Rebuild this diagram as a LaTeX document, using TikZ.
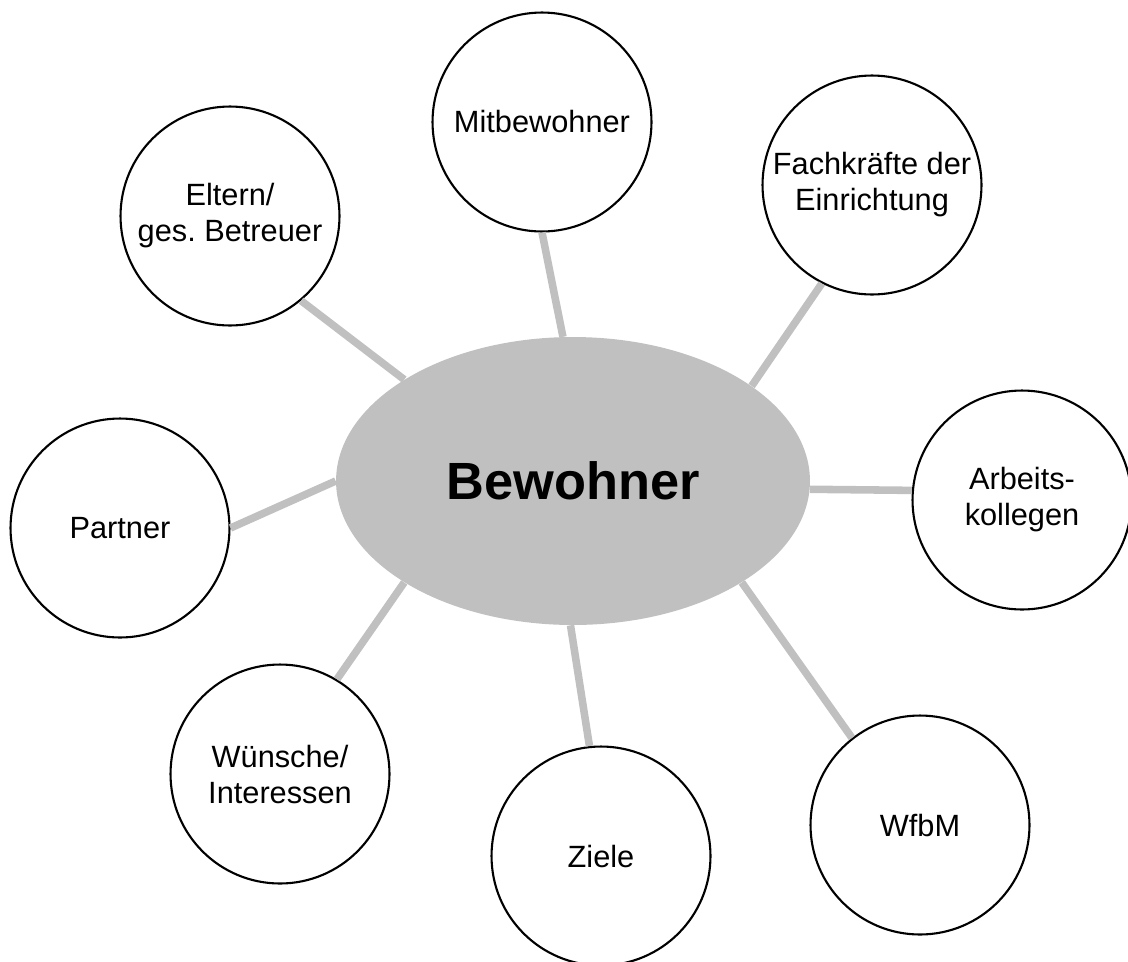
\documentclass[tikz,border=0pt]{standalone}
\usepackage{fontspec}
\setmainfont{Liberation Sans}
\usetikzlibrary{shapes.geometric}
\frenchspacing
\definecolor{silvergray}{RGB}{192,192,192}
\tikzset{
  topic/.style={circle, draw=black, line width=1.2pt, fill=white, minimum size=4.38cm,
    inner sep=0pt, align=center, font=\fontsize{17.5}{20.5}\selectfont},
  centre/.style={ellipse, fill=silvergray, minimum width=9.48cm, minimum height=5.76cm,
    inner sep=0pt, font=\fontsize{29.8}{34}\selectfont\bfseries},
  link/.style={draw=silvergray, line width=4.3pt}
}
\begin{document}
\begin{tikzpicture}[x=0.02cm, y=-0.02cm]
\useasboundingbox (0,0) rectangle (1128,961);
\node[centre] (bew) at (573,481) {Bewohner};
\node[topic] (mit) at (542,122) {Mitbewohner};
\node[topic] (elt) at (230,216) {Eltern/\\ges.\ Betreuer};
\node[topic] (fach) at (872,185) {Fachkräfte der\\Einrichtung};
\node[topic] (arb) at (1022,500) {Arbeits-\\kollegen};
\node[topic] (par) at (120,528) {Partner};
\node[topic] (wun) at (280,774) {Wünsche/\\Interessen};
\node[topic] (ziel) at (601,856) {Ziele};
\node[topic] (wfbm) at (920,825) {WfbM};
\draw[link] (mit.-90) -- (bew.94);
\draw[link] (elt.-50) -- (bew.149);
\draw[link] (fach.-117) -- (bew.28.4);
\draw[link] (arb.175) -- (bew.-2);
\draw[link] (par.0) -- (bew.180);
\draw[link] (wun.59) -- (bew.211);
\draw[link] (ziel.96) -- (bew.269.6);
\draw[link] (wfbm.128) -- (bew.-31.6);
\end{tikzpicture}
\end{document}
